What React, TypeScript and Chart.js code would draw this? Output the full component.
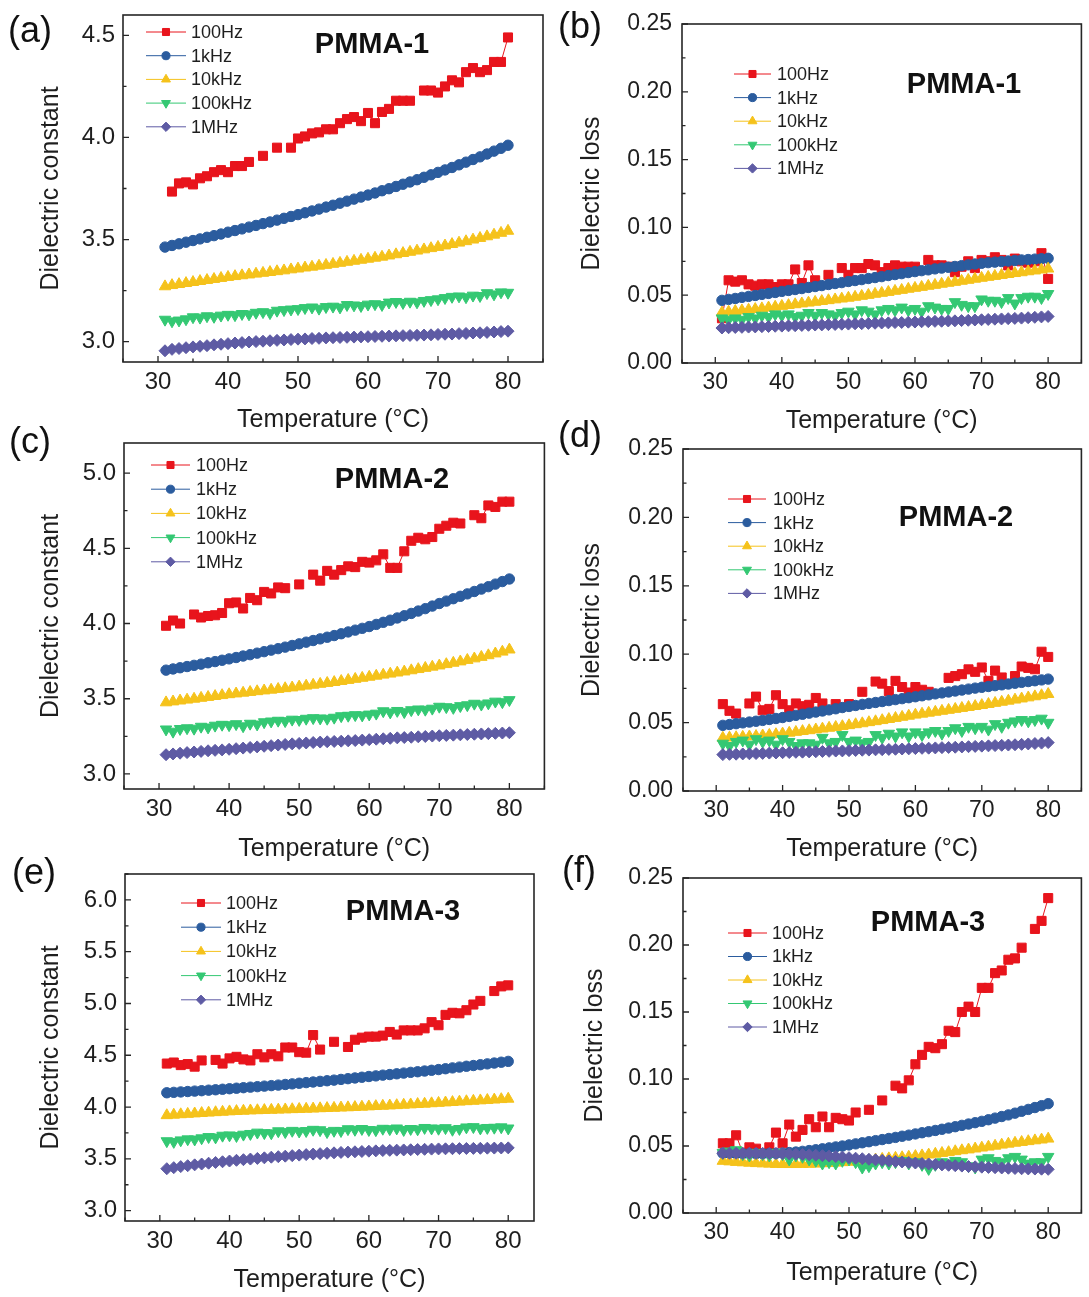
import React, { useEffect, useRef } from "react";
import { Chart, registerables } from "chart.js";

Chart.register(...registerables);

const FONT = '"Liberation Sans", Arial, Helvetica, sans-serif';
const INK = "#1e1e1e";

// ---------- data ----------
const TEMPS = [
  31, 32, 33, 34, 35, 36, 37, 38, 39, 40,
  41, 42, 43, 44, 45, 46, 47, 48, 49, 50,
  51, 52, 53, 54, 55, 56, 57, 58, 59, 60,
  61, 62, 63, 64, 65, 66, 67, 68, 69, 70,
  71, 72, 73, 74, 75, 76, 77, 78, 79, 80,
];
const FREQS = ["100Hz", "1kHz", "10kHz", "100kHz", "1MHz"];
const X_TICKS = [30, 40, 50, 60, 70, 80];
const CONST_TICKS_1 = [3.0, 3.5, 4.0, 4.5];
const CONST_TICKS_2 = [3.0, 3.5, 4.0, 4.5, 5.0];
const CONST_TICKS_3 = [3.0, 3.5, 4.0, 4.5, 5.0, 5.5, 6.0];
const LOSS_TICKS = [0.0, 0.05, 0.1, 0.15, 0.2, 0.25];

// PMMA-1 dielectric constant
const A_100HZ = [
  null, 3.735, 3.775, 3.78, 3.77, 3.8, 3.81, 3.83, 3.84, 3.83,
  3.86, 3.86, 3.88, null, 3.91, null, 3.95, null, 3.95, 3.995,
  4.005, 4.02, 4.025, 4.04, 4.04, 4.07, 4.09, 4.1, 4.08, 4.12,
  4.07, 4.125, 4.14, 4.18, 4.18, 4.18, null, 4.23, 4.23, 4.22,
  4.25, 4.28, 4.27, 4.32, 4.34, 4.32, 4.33, 4.37, 4.37, 4.49,
];
const A_1KHZ = [
  3.463, 3.471, 3.479, 3.487, 3.495, 3.503, 3.511, 3.519, 3.527, 3.536,
  3.544, 3.552, 3.561, 3.569, 3.578, 3.586, 3.595, 3.604, 3.613, 3.622,
  3.631, 3.64, 3.649, 3.659, 3.668, 3.678, 3.688, 3.698, 3.708, 3.718,
  3.728, 3.739, 3.749, 3.76, 3.771, 3.782, 3.793, 3.805, 3.817, 3.829,
  3.841, 3.853, 3.866, 3.879, 3.892, 3.905, 3.919, 3.933, 3.947, 3.962,
];
const A_10KHZ = [
  3.27, 3.276, 3.281, 3.286, 3.291, 3.296, 3.301, 3.306, 3.311, 3.316,
  3.32, 3.324, 3.328, 3.332, 3.336, 3.34, 3.344, 3.348, 3.353, 3.357,
  3.362, 3.366, 3.371, 3.375, 3.38, 3.385, 3.39, 3.395, 3.4, 3.405,
  3.41, 3.415, 3.421, 3.427, 3.433, 3.439, 3.445, 3.451, 3.457, 3.463,
  3.47, 3.477, 3.484, 3.491, 3.499, 3.507, 3.515, 3.523, 3.532, 3.542,
];
const A_100KHZ = [
  3.108, 3.1, 3.104, 3.11, 3.12, 3.118, 3.125, 3.122, 3.128, 3.132,
  3.13, 3.136, 3.134, 3.142, 3.145, 3.14, 3.152, 3.155, 3.158, 3.16,
  3.165, 3.168, 3.162, 3.17, 3.172, 3.168, 3.18, 3.178, 3.175, 3.182,
  3.184, 3.18, 3.192, 3.195, 3.19, 3.196, 3.193, 3.2, 3.204, 3.208,
  3.214, 3.22, 3.222, 3.218, 3.226, 3.224, 3.238, 3.232, 3.242, 3.24,
];
const A_1MHZ = [
  2.955, 2.962, 2.966, 2.97, 2.974, 2.977, 2.98, 2.984, 2.987, 2.99,
  2.993, 2.995, 2.998, 3.0, 3.002, 3.004, 3.006, 3.008, 3.01, 3.012,
  3.013, 3.015, 3.016, 3.018, 3.019, 3.02, 3.021, 3.022, 3.023, 3.024,
  3.025, 3.026, 3.027, 3.028, 3.029, 3.03, 3.031, 3.032, 3.033, 3.035,
  3.036, 3.037, 3.039, 3.04, 3.042, 3.043, 3.045, 3.047, 3.049, 3.051,
];

// PMMA-1 dielectric loss
const B_100HZ = [
  0.033, 0.061, 0.06, 0.061, 0.058, 0.057, 0.058, 0.058, 0.056, 0.058,
  0.058, 0.069, 0.059, 0.072, 0.061, null, 0.065, null, 0.07, 0.065,
  0.07, 0.07, 0.073, 0.072, 0.067, 0.07, 0.072, 0.071, 0.071, 0.071,
  null, 0.076, 0.072, 0.072, 0.071, 0.067, 0.071, 0.075, 0.07, 0.076,
  0.075, 0.078, 0.076, 0.072, 0.077, 0.075, 0.074, 0.075, 0.081, 0.062,
];
const B_1KHZ = [
  0.0462, 0.0469, 0.0476, 0.0484, 0.0491, 0.0498, 0.0506, 0.0513, 0.052, 0.0528,
  0.0535, 0.0542, 0.0549, 0.0557, 0.0564, 0.0571, 0.0579, 0.0586, 0.0593, 0.0601,
  0.0608, 0.0615, 0.0623, 0.063, 0.0637, 0.0645, 0.0652, 0.0659, 0.0667, 0.0674,
  0.0681, 0.0687, 0.0694, 0.07, 0.0706, 0.0712, 0.0718, 0.0724, 0.073, 0.0735,
  0.074, 0.0744, 0.0748, 0.0752, 0.0756, 0.076, 0.0763, 0.0766, 0.0769, 0.0772,
];
const B_10KHZ = [
  0.0372, 0.0377, 0.0382, 0.0387, 0.0392, 0.0397, 0.0402, 0.0408, 0.0414, 0.042,
  0.0426, 0.0432, 0.0438, 0.0444, 0.045, 0.0456, 0.0462, 0.0468, 0.0474, 0.048,
  0.0487, 0.0494, 0.0501, 0.0509, 0.0516, 0.0523, 0.0531, 0.0538, 0.0546, 0.0553,
  0.056, 0.0568, 0.0575, 0.0583, 0.059, 0.0597, 0.0605, 0.0612, 0.062, 0.0627,
  0.0634, 0.0641, 0.0648, 0.0655, 0.0662, 0.0668, 0.0675, 0.0681, 0.0688, 0.0695,
];
const B_100KHZ = [
  0.033, 0.032, 0.033, 0.032, 0.034, 0.033, 0.035, 0.034, 0.036, 0.035,
  0.036, 0.034, 0.035, 0.037, 0.035, 0.037, 0.036, 0.035, 0.037, 0.038,
  0.036, 0.039, 0.038, 0.036, 0.039, 0.04, 0.039, 0.041, 0.039, 0.04,
  0.038, 0.042, 0.041, 0.04, 0.04, 0.045, 0.043, 0.042, 0.042, 0.047,
  0.046, 0.046, 0.045, 0.048, 0.044, 0.048, 0.049, 0.049, 0.048, 0.051,
];
const B_1MHZ = [
  0.0258, 0.026, 0.0262, 0.0263, 0.0265, 0.0266, 0.0268, 0.0269, 0.0271, 0.0272,
  0.0274, 0.0275, 0.0277, 0.0278, 0.028, 0.0281, 0.0283, 0.0284, 0.0286, 0.0287,
  0.0289, 0.029, 0.0292, 0.0293, 0.0295, 0.0296, 0.0298, 0.0299, 0.0301, 0.0302,
  0.0304, 0.0305, 0.0307, 0.0308, 0.031, 0.0311, 0.0313, 0.0315, 0.0317, 0.0319,
  0.0321, 0.0323, 0.0325, 0.0327, 0.0329, 0.0331, 0.0334, 0.0337, 0.034, 0.0343,
];

// PMMA-2 dielectric constant
const C_100HZ = [
  3.985, 4.02, 4.0, null, 4.06, 4.04, 4.05, 4.055, 4.07, 4.135,
  4.14, 4.1, 4.17, 4.155, 4.21, 4.2, 4.24, 4.235, null, 4.26,
  null, 4.325, 4.285, 4.35, 4.325, 4.355, 4.38, 4.375, 4.41, 4.405,
  4.42, 4.46, 4.37, 4.37, 4.48, 4.55, 4.57, 4.56, 4.575, 4.63,
  4.65, 4.67, 4.665, null, 4.72, 4.7, 4.785, 4.775, 4.81, 4.81,
];
const C_1KHZ = [
  3.69, 3.698, 3.706, 3.714, 3.722, 3.73, 3.739, 3.747, 3.756, 3.765,
  3.774, 3.784, 3.793, 3.803, 3.813, 3.823, 3.833, 3.843, 3.854, 3.865,
  3.876, 3.887, 3.898, 3.909, 3.92, 3.932, 3.944, 3.956, 3.968, 3.98,
  3.994, 4.008, 4.022, 4.037, 4.052, 4.067, 4.083, 4.099, 4.116, 4.133,
  4.149, 4.165, 4.181, 4.197, 4.213, 4.229, 4.245, 4.262, 4.279, 4.296,
];
const C_10KHZ = [
  3.475, 3.481, 3.487, 3.493, 3.499, 3.505, 3.511, 3.517, 3.523, 3.529,
  3.534, 3.539, 3.544, 3.549, 3.554, 3.559, 3.564, 3.569, 3.574, 3.58,
  3.586, 3.592, 3.598, 3.604, 3.61, 3.617, 3.624, 3.631, 3.638, 3.645,
  3.652, 3.659, 3.666, 3.673, 3.68, 3.688, 3.696, 3.704, 3.712, 3.72,
  3.729, 3.738, 3.747, 3.757, 3.767, 3.777, 3.788, 3.8, 3.812, 3.826,
];
const C_100KHZ = [
  3.297, 3.282, 3.3, 3.305, 3.302, 3.315, 3.31, 3.322, 3.328, 3.325,
  3.332, 3.318, 3.335, 3.33, 3.345, 3.35, 3.355, 3.352, 3.362, 3.36,
  3.368, 3.372, 3.37, 3.368, 3.375, 3.385, 3.388, 3.392, 3.39, 3.396,
  3.402, 3.418, 3.41, 3.42, 3.412, 3.425, 3.43, 3.428, 3.435, 3.448,
  3.445, 3.44, 3.452, 3.458, 3.468, 3.462, 3.47, 3.482, 3.478, 3.492,
];
const C_1MHZ = [
  3.128, 3.133, 3.138, 3.142, 3.146, 3.15, 3.154, 3.157, 3.16, 3.164,
  3.168, 3.172, 3.176, 3.18, 3.184, 3.188, 3.192, 3.196, 3.2, 3.203,
  3.206, 3.209, 3.212, 3.214, 3.216, 3.218, 3.22, 3.222, 3.225, 3.228,
  3.231, 3.234, 3.237, 3.24, 3.242, 3.244, 3.247, 3.249, 3.252, 3.254,
  3.256, 3.258, 3.26, 3.262, 3.264, 3.266, 3.268, 3.27, 3.272, 3.274,
];

// PMMA-2 dielectric loss
const D_100HZ = [
  0.0635, 0.0586, 0.0566, null, 0.064, 0.069, 0.059, 0.06, 0.07, 0.0635,
  0.059, 0.064, 0.062, 0.063, 0.068, 0.064, null, 0.0635, null, 0.0635,
  null, 0.0725, null, 0.08, 0.0785, 0.073, 0.0805, 0.076, 0.072, 0.076,
  0.074, 0.0725, null, null, 0.0827, 0.084, 0.0854, 0.0889, 0.0871, 0.0903,
  0.0805, 0.088, 0.083, null, 0.084, 0.091, 0.09, 0.089, 0.1018, 0.098,
];
const D_1KHZ = [
  0.048, 0.0486, 0.0492, 0.0498, 0.0504, 0.051, 0.0516, 0.0523, 0.053, 0.0537,
  0.0545, 0.0553, 0.0561, 0.0569, 0.0577, 0.0585, 0.0593, 0.0601, 0.061, 0.0618,
  0.0625, 0.0633, 0.064, 0.0647, 0.0654, 0.0661, 0.0668, 0.0675, 0.0682, 0.0689,
  0.0696, 0.0703, 0.071, 0.0717, 0.0724, 0.0731, 0.0738, 0.0745, 0.0752, 0.0758,
  0.0764, 0.077, 0.0776, 0.0782, 0.0788, 0.0794, 0.08, 0.0806, 0.0812, 0.0818,
];
const D_10KHZ = [
  0.0388, 0.039, 0.0392, 0.0395, 0.0398, 0.0401, 0.0405, 0.0409, 0.0414, 0.0419,
  0.0425, 0.0431, 0.0437, 0.0443, 0.0449, 0.0455, 0.0461, 0.0467, 0.0473, 0.048,
  0.0487, 0.0494, 0.0502, 0.0509, 0.0517, 0.0525, 0.0533, 0.0541, 0.0549, 0.0557,
  0.0564, 0.0571, 0.0578, 0.0585, 0.0592, 0.0599, 0.0606, 0.0613, 0.062, 0.0627,
  0.0635, 0.0643, 0.0651, 0.0659, 0.0667, 0.0675, 0.0683, 0.0691, 0.0699, 0.0708,
];
const D_100KHZ = [
  0.0347, 0.033, 0.036, 0.037, 0.034, 0.038, 0.036, 0.037, 0.034, 0.038,
  0.036, 0.033, 0.035, 0.035, 0.034, 0.039, 0.035, 0.036, 0.041, 0.036,
  0.037, 0.035, 0.036, 0.041, 0.039, 0.042, 0.04, 0.043, 0.04, 0.043,
  0.041, 0.043, 0.044, 0.042, 0.044, 0.046, 0.044, 0.047, 0.046, 0.047,
  0.045, 0.049, 0.047, 0.05, 0.051, 0.052, 0.051, 0.052, 0.053, 0.05,
];
const D_1MHZ = [
  0.0266, 0.0268, 0.0269, 0.0271, 0.0272, 0.0274, 0.0275, 0.0277, 0.0278, 0.028,
  0.0281, 0.0283, 0.0284, 0.0286, 0.0287, 0.0289, 0.029, 0.0292, 0.0293, 0.0295,
  0.0296, 0.0298, 0.0299, 0.0301, 0.0302, 0.0304, 0.0305, 0.0307, 0.0308, 0.031,
  0.0312, 0.0313, 0.0315, 0.0317, 0.0318, 0.032, 0.0322, 0.0324, 0.0326, 0.0328,
  0.033, 0.0332, 0.0334, 0.0336, 0.0338, 0.0341, 0.0344, 0.0347, 0.035, 0.0354,
];

// PMMA-3 dielectric constant
const E_100HZ = [
  4.42, 4.43, 4.405, 4.415, 4.39, 4.45, null, 4.455, 4.42, 4.47,
  4.485, 4.46, 4.45, 4.51, 4.48, 4.51, 4.49, 4.575, 4.575, 4.53,
  4.525, 4.695, 4.555, null, 4.63, null, 4.58, 4.65, 4.67, 4.68,
  4.68, 4.69, 4.725, 4.7, 4.74, 4.74, 4.74, 4.76, 4.82, 4.79,
  4.89, 4.91, 4.905, 4.935, 4.99, 5.025, null, 5.12, 5.165, 5.175,
];
const E_1KHZ = [
  4.138, 4.142, 4.146, 4.15, 4.154, 4.158, 4.163, 4.167, 4.172, 4.177,
  4.182, 4.187, 4.192, 4.197, 4.202, 4.207, 4.212, 4.218, 4.224, 4.23,
  4.236, 4.242, 4.248, 4.254, 4.26, 4.267, 4.274, 4.281, 4.288, 4.295,
  4.301, 4.308, 4.314, 4.321, 4.328, 4.335, 4.341, 4.348, 4.355, 4.362,
  4.37, 4.378, 4.386, 4.394, 4.401, 4.409, 4.417, 4.425, 4.433, 4.441,
];
const E_10KHZ = [
  3.92, 3.925, 3.929, 3.933, 3.937, 3.941, 3.945, 3.949, 3.953, 3.957,
  3.96, 3.963, 3.966, 3.968, 3.97, 3.972, 3.974, 3.976, 3.978, 3.98,
  3.982, 3.984, 3.987, 3.989, 3.991, 3.994, 3.996, 3.999, 4.002, 4.005,
  4.008, 4.011, 4.014, 4.017, 4.021, 4.024, 4.028, 4.031, 4.035, 4.039,
  4.043, 4.047, 4.051, 4.055, 4.059, 4.063, 4.067, 4.071, 4.075, 4.079,
];
const E_100KHZ = [
  3.672, 3.665, 3.68, 3.69, 3.688, 3.7, 3.712, 3.708, 3.725, 3.728,
  3.722, 3.735, 3.742, 3.755, 3.75, 3.748, 3.768, 3.76, 3.772, 3.765,
  3.77, 3.782, 3.778, 3.76, 3.772, 3.77, 3.788, 3.782, 3.79, 3.78,
  3.778, 3.792, 3.788, 3.795, 3.78, 3.79, 3.786, 3.8, 3.795, 3.792,
  3.798, 3.782, 3.79, 3.805, 3.808, 3.795, 3.8, 3.802, 3.806, 3.795,
];
const E_1MHZ = [
  3.405, 3.415, 3.425, 3.434, 3.442, 3.45, 3.458, 3.465, 3.472, 3.479,
  3.486, 3.492, 3.498, 3.504, 3.51, 3.516, 3.521, 3.526, 3.531, 3.536,
  3.541, 3.546, 3.55, 3.554, 3.558, 3.562, 3.565, 3.568, 3.571, 3.574,
  3.577, 3.58, 3.582, 3.584, 3.586, 3.588, 3.59, 3.592, 3.594, 3.596,
  3.597, 3.598, 3.599, 3.6, 3.601, 3.602, 3.603, 3.604, 3.605, 3.606,
];

// PMMA-3 dielectric loss
const F_100HZ = [
  0.052, 0.052, 0.058, 0.045, 0.049, 0.048, null, 0.049, 0.06, 0.052,
  0.066, 0.057, 0.062, 0.07, 0.064, 0.072, 0.064, 0.071, 0.07, 0.069,
  0.075, null, 0.077, null, 0.084, null, 0.095, 0.093, 0.099, 0.111,
  0.118, 0.124, 0.123, 0.126, 0.136, 0.135, 0.15, 0.154, 0.15, 0.168,
  0.168, 0.179, 0.181, 0.189, 0.19, 0.198, null, 0.212, 0.218, 0.235,
];
const F_1KHZ = [
  0.0446, 0.0445, 0.0444, 0.0443, 0.0443, 0.0443, 0.0443, 0.0444, 0.0445, 0.0447,
  0.0451, 0.0455, 0.046, 0.0466, 0.0472, 0.0479, 0.0486, 0.0493, 0.05, 0.0508,
  0.0516, 0.0524, 0.0532, 0.054, 0.0548, 0.0556, 0.0564, 0.0573, 0.0581, 0.059,
  0.0599, 0.0607, 0.0616, 0.0625, 0.0634, 0.0644, 0.0654, 0.0664, 0.0674, 0.0684,
  0.0696, 0.0708, 0.072, 0.0732, 0.0745, 0.0759, 0.0773, 0.0787, 0.0801, 0.0816,
];
const F_10KHZ = [
  0.0388, 0.0384, 0.038, 0.0377, 0.0374, 0.0371, 0.0369, 0.0367, 0.0365, 0.0364,
  0.0364, 0.0364, 0.0365, 0.0366, 0.0368, 0.037, 0.0372, 0.0375, 0.0378, 0.0381,
  0.0385, 0.0389, 0.0393, 0.0398, 0.0403, 0.0407, 0.0411, 0.0415, 0.0419, 0.0424,
  0.0429, 0.0435, 0.0441, 0.0447, 0.0453, 0.046, 0.0467, 0.0473, 0.048, 0.0487,
  0.0494, 0.0501, 0.0509, 0.0516, 0.0523, 0.0529, 0.0535, 0.0541, 0.0547, 0.0554,
];
const F_100KHZ = [
  0.045, 0.046, 0.047, 0.044, 0.043, 0.045, 0.044, 0.043, 0.045, 0.044,
  0.04, 0.043, 0.042, 0.04, 0.039, 0.037, 0.038, 0.037, 0.039, 0.04,
  0.038, 0.034, 0.035, 0.037, 0.038, 0.037, 0.038, 0.039, 0.037, 0.038,
  0.036, 0.033, 0.036, 0.038, 0.037, 0.039, 0.038, 0.035, 0.034, 0.04,
  0.041, 0.039, 0.038, 0.041, 0.042, 0.04, 0.037, 0.038, 0.038, 0.042,
];
const F_1MHZ = [
  0.0446, 0.0446, 0.0446, 0.0446, 0.0446, 0.0445, 0.0445, 0.0444, 0.0444, 0.0443,
  0.0441, 0.0439, 0.0437, 0.0434, 0.0431, 0.0428, 0.0425, 0.0421, 0.0417, 0.0413,
  0.0409, 0.0405, 0.0401, 0.0397, 0.0393, 0.0389, 0.0385, 0.0381, 0.0377, 0.0373,
  0.0369, 0.0366, 0.0362, 0.0359, 0.0356, 0.0353, 0.035, 0.0347, 0.0345, 0.0342,
  0.034, 0.0338, 0.0336, 0.0334, 0.0332, 0.033, 0.0329, 0.0328, 0.0327, 0.0326,
];

// ---------- styles ----------
const COLORS = ["#E8141C", "#2B5C9E", "#F5C21B", "#34C873", "#5E5BA4"];
const POINT_STYLES = ["rect", "circle", "triangle", "triangle", "rectRot"];
const POINT_ROT = [0, 0, 0, 180, 0];
const POINT_R = [6.4, 5.2, 6.6, 6.6, 6.0];

type Box = { x: number; y: number; w: number; h: number };
type PanelCfg = {
  letter: string;
  sample: string;
  yTitle: string;
  decimals: number;
  series: (number | null)[][];
  yMin: number;
  yMax: number;
  yTicks: number[];
  xMin: number;
  xMax: number;
  canvas: Box;
  area: { L: number; T: number; R: number; B: number };
  yTitleX: number;
  xTitleY: number;
  tickFont: number;
  yTickPad: number;
  letterPos: { x: number; y: number };
  samplePos: { x: number; y: number };
  legend: { x0: number; x1: number; tx: number; y0: number; dy: number };
};

const PANELS: PanelCfg[] = [
  {
    letter: "(a)", sample: "PMMA-1", yTitle: "Dielectric constant", decimals: 1,
    series: [A_100HZ, A_1KHZ, A_10KHZ, A_100KHZ, A_1MHZ],
    yMin: 2.9, yMax: 4.6, yTicks: CONST_TICKS_1, xMin: 25, xMax: 85,
    canvas: { x: 0, y: -20, w: 552, h: 460 },
    area: { L: 123, T: 15, R: 543, B: 362 },
    yTitleX: 51, xTitleY: 420, tickFont: 24, yTickPad: 8,
    letterPos: { x: 8, y: 42 }, samplePos: { x: 372, y: 45 },
    legend: { x0: 146, x1: 186, tx: 191, y0: 32, dy: 23.7 },
  },
  {
    letter: "(b)", sample: "PMMA-1", yTitle: "Dielectric loss", decimals: 2,
    series: [B_100HZ, B_1KHZ, B_10KHZ, B_100KHZ, B_1MHZ],
    yMin: 0, yMax: 0.25, yTicks: LOSS_TICKS, xMin: 25, xMax: 85,
    canvas: { x: 548, y: -20, w: 541, h: 460 },
    area: { L: 682, T: 24, R: 1087, B: 363 },
    yTitleX: 592, xTitleY: 421, tickFont: 23, yTickPad: 10,
    letterPos: { x: 558, y: 38 }, samplePos: { x: 964, y: 85 },
    legend: { x0: 734, x1: 771, tx: 777, y0: 74, dy: 23.6 },
  },
  {
    letter: "(c)", sample: "PMMA-2", yTitle: "Dielectric constant", decimals: 1,
    series: [C_100HZ, C_1KHZ, C_10KHZ, C_100KHZ, C_1MHZ],
    yMin: 2.9, yMax: 5.2, yTicks: CONST_TICKS_2, xMin: 25, xMax: 85,
    canvas: { x: 0, y: 418, w: 552, h: 450 },
    area: { L: 124, T: 443, R: 545, B: 789 },
    yTitleX: 51, xTitleY: 849, tickFont: 24, yTickPad: 8,
    letterPos: { x: 9, y: 453 }, samplePos: { x: 392, y: 480 },
    legend: { x0: 151, x1: 190, tx: 196, y0: 465, dy: 24.2 },
  },
  {
    letter: "(d)", sample: "PMMA-2", yTitle: "Dielectric loss", decimals: 2,
    series: [D_100HZ, D_1KHZ, D_10KHZ, D_100KHZ, D_1MHZ],
    yMin: 0, yMax: 0.25, yTicks: LOSS_TICKS, xMin: 25, xMax: 85,
    canvas: { x: 548, y: 418, w: 541, h: 450 },
    area: { L: 683, T: 449, R: 1088, B: 791 },
    yTitleX: 592, xTitleY: 849, tickFont: 23, yTickPad: 10,
    letterPos: { x: 558, y: 447 }, samplePos: { x: 956, y: 518 },
    legend: { x0: 728, x1: 766, tx: 773, y0: 499, dy: 23.6 },
  },
  {
    letter: "(e)", sample: "PMMA-3", yTitle: "Dielectric constant", decimals: 1,
    series: [E_100HZ, E_1KHZ, E_10KHZ, E_100KHZ, E_1MHZ],
    yMin: 2.9, yMax: 6.25, yTicks: CONST_TICKS_3, xMin: 25, xMax: 83.7,
    canvas: { x: 0, y: 848, w: 552, h: 449 },
    area: { L: 125, T: 874, R: 534, B: 1221 },
    yTitleX: 51, xTitleY: 1280, tickFont: 24, yTickPad: 8,
    letterPos: { x: 12, y: 884 }, samplePos: { x: 403, y: 912 },
    legend: { x0: 181, x1: 221, tx: 226, y0: 903, dy: 24.2 },
  },
  {
    letter: "(f)", sample: "PMMA-3", yTitle: "Dielectric loss", decimals: 2,
    series: [F_100HZ, F_1KHZ, F_10KHZ, F_100KHZ, F_1MHZ],
    yMin: 0, yMax: 0.25, yTicks: LOSS_TICKS, xMin: 25, xMax: 85,
    canvas: { x: 548, y: 848, w: 541, h: 449 },
    area: { L: 683, T: 878, R: 1088, B: 1213 },
    yTitleX: 595, xTitleY: 1273, tickFont: 23, yTickPad: 10,
    letterPos: { x: 562, y: 882 }, samplePos: { x: 928, y: 923 },
    legend: { x0: 728, x1: 767, tx: 772, y0: 933, dy: 23.5 },
  },
];

function drawMarker(ctx: CanvasRenderingContext2D, i: number, x: number, y: number, r: number) {
  const style = POINT_STYLES[i];
  const color = COLORS[i];
  ctx.save();
  ctx.fillStyle = color;
  ctx.strokeStyle = color;
  ctx.lineWidth = 1;
  ctx.beginPath();
  if (style === "rect") {
    const s = r * Math.SQRT1_2;
    ctx.rect(x - s, y - s, 2 * s, 2 * s);
  } else if (style === "circle") {
    ctx.arc(x, y, r, 0, Math.PI * 2);
  } else if (style === "triangle") {
    const d = POINT_ROT[i] === 180 ? -1 : 1;
    ctx.moveTo(x, y - d * r);
    ctx.lineTo(x + r * 0.866, y + d * r * 0.5);
    ctx.lineTo(x - r * 0.866, y + d * r * 0.5);
    ctx.closePath();
  } else {
    ctx.moveTo(x - r, y);
    ctx.lineTo(x, y - r);
    ctx.lineTo(x + r, y);
    ctx.lineTo(x, y + r);
    ctx.closePath();
  }
  ctx.fill();
  ctx.stroke();
  ctx.restore();
}

function minorOf(ticks: number[], min: number, max: number) {
  const out: number[] = [];
  const step = ticks[1] - ticks[0];
  const first = ticks[0] - step / 2;
  if (first >= min) out.push(first);
  for (let i = 0; i < ticks.length - 1; i++) out.push((ticks[i] + ticks[i + 1]) / 2);
  const last = ticks[ticks.length - 1] + step / 2;
  if (last <= max) out.push(last);
  return out;
}

const decorPlugin = {
  id: "decor",
  afterDraw(chart: any, _args: any, opts: any) {
    const p: PanelCfg = opts.panel;
    if (!p) return;
    const ctx: CanvasRenderingContext2D = chart.ctx;
    const a = chart.chartArea;
    const ox = p.canvas.x;
    const oy = p.canvas.y;
    const xs = chart.scales.x;
    const ys = chart.scales.y;
    ctx.save();
    // frame
    ctx.strokeStyle = "#262626";
    ctx.lineWidth = 1.6;
    ctx.strokeRect(a.left, a.top, a.right - a.left, a.bottom - a.top);
    // inward ticks on bottom and left axes
    ctx.lineWidth = 1.3;
    ctx.beginPath();
    X_TICKS.forEach((v) => {
      const px = xs.getPixelForValue(v);
      ctx.moveTo(px, a.bottom);
      ctx.lineTo(px, a.bottom - 6);
    });
    minorOf(X_TICKS, p.xMin, p.xMax).forEach((v) => {
      const px = xs.getPixelForValue(v);
      ctx.moveTo(px, a.bottom);
      ctx.lineTo(px, a.bottom - 3.5);
    });
    p.yTicks.forEach((v) => {
      const py = ys.getPixelForValue(v);
      ctx.moveTo(a.left, py);
      ctx.lineTo(a.left + 6, py);
    });
    minorOf(p.yTicks, p.yMin, p.yMax).forEach((v) => {
      const py = ys.getPixelForValue(v);
      ctx.moveTo(a.left, py);
      ctx.lineTo(a.left + 3.5, py);
    });
    ctx.stroke();

    // legend
    const lg = p.legend;
    ctx.font = `18px ${FONT}`;
    ctx.textAlign = "left";
    ctx.textBaseline = "middle";
    FREQS.forEach((name, i) => {
      const y = lg.y0 - oy + i * lg.dy;
      ctx.strokeStyle = COLORS[i];
      ctx.lineWidth = 1;
      ctx.beginPath();
      ctx.moveTo(lg.x0 - ox, y);
      ctx.lineTo(lg.x1 - ox, y);
      ctx.stroke();
      drawMarker(ctx, i, (lg.x0 + lg.x1) / 2 - ox, y, POINT_R[i] * 0.78);
      ctx.fillStyle = INK;
      ctx.fillText(name, lg.tx - ox, y + 1);
    });

    // sample label
    ctx.font = `bold 29px ${FONT}`;
    ctx.textAlign = "center";
    ctx.textBaseline = "middle";
    ctx.fillStyle = "#111";
    ctx.fillText(p.sample, p.samplePos.x - ox, p.samplePos.y - oy);

    // panel letter
    ctx.font = `36px ${FONT}`;
    ctx.textAlign = "left";
    ctx.textBaseline = "alphabetic";
    ctx.fillText(p.letter, p.letterPos.x - ox, p.letterPos.y - oy);
    ctx.restore();
  },
};

function Panel({ p }: { p: PanelCfg }) {
  const ref = useRef<HTMLCanvasElement>(null);
  useEffect(() => {
    const c = ref.current;
    if (!c) return;
    const cv = p.canvas;
    const titleLH = 25 * 1.2;
    const datasets = p.series.map((vals, i) => ({
      label: FREQS[i],
      data: TEMPS.map((t, j) => ({ x: t, y: vals[j] })),
      borderColor: COLORS[i],
      backgroundColor: COLORS[i],
      borderWidth: 1,
      pointStyle: POINT_STYLES[i],
      pointRotation: POINT_ROT[i],
      pointRadius: POINT_R[i],
      pointBackgroundColor: COLORS[i],
      pointBorderColor: COLORS[i],
      pointBorderWidth: 1,
      spanGaps: false,
      tension: 0,
      order: 4 - i,
    }));
    const chart = new Chart(c, {
      type: "line",
      data: { datasets } as any,
      options: {
        animation: false,
        responsive: false,
        maintainAspectRatio: false,
        devicePixelRatio: 1,
        events: [],
        layout: {
          padding: {
            left: 0,
            top: p.area.T - cv.y,
            right: cv.x + cv.w - p.area.R,
            bottom: 0,
          },
        },
        plugins: {
          legend: { display: false },
          tooltip: { enabled: false },
          decor: { panel: p },
        } as any,
        scales: {
          x: {
            type: "linear",
            min: p.xMin,
            max: p.xMax,
            afterBuildTicks: (s: any) => {
              s.ticks = X_TICKS.map((v) => ({ value: v }));
            },
            afterFit: (s: any) => {
              s.height = cv.y + cv.h - p.area.B;
            },
            grid: { display: false, drawTicks: false },
            border: { display: false },
            ticks: {
              autoSkip: false,
              maxRotation: 0,
              padding: 6,
              color: INK,
              font: { family: FONT, size: p.tickFont },
              callback: (v: any) => String(v),
            },
            title: {
              display: true,
              text: "Temperature (°C)",
              color: INK,
              font: { family: FONT, size: 25 },
              padding: { top: 0, bottom: cv.y + cv.h - p.xTitleY - titleLH / 2 },
            },
          },
          y: {
            type: "linear",
            min: p.yMin,
            max: p.yMax,
            afterBuildTicks: (s: any) => {
              s.ticks = p.yTicks.map((v) => ({ value: v }));
            },
            afterFit: (s: any) => {
              s.width = p.area.L - cv.x;
            },
            grid: { display: false, drawTicks: false },
            border: { display: false },
            ticks: {
              autoSkip: false,
              padding: p.yTickPad,
              color: INK,
              font: { family: FONT, size: p.tickFont },
              callback: (v: any) => Number(v).toFixed(p.decimals),
            },
            title: {
              display: true,
              text: p.yTitle,
              color: INK,
              font: { family: FONT, size: 25 },
              padding: { top: p.yTitleX - cv.x - titleLH / 2, bottom: 0 },
            },
          },
        } as any,
      },
      plugins: [decorPlugin as any],
    });
    return () => chart.destroy();
  }, [p]);
  return (
    <canvas
      ref={ref}
      width={p.canvas.w}
      height={p.canvas.h}
      style={{
        position: "absolute",
        left: p.canvas.x,
        top: p.canvas.y,
        width: p.canvas.w,
        height: p.canvas.h,
      }}
    />
  );
}

export default function App() {
  return (
    <div
      style={{
        position: "absolute",
        left: 0,
        top: 0,
        width: 1089,
        height: 1297,
        background: "#ffffff",
        overflow: "hidden",
      }}
    >
      {PANELS.map((p) => (
        <Panel key={p.letter} p={p} />
      ))}
    </div>
  );
}
